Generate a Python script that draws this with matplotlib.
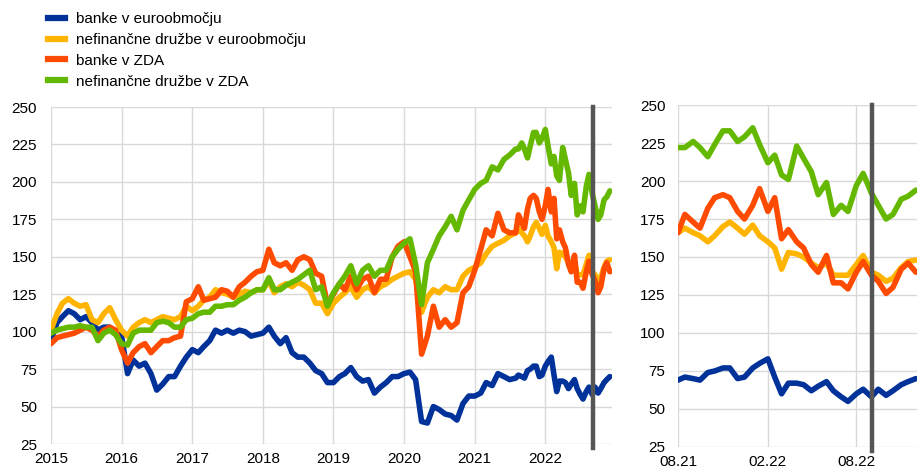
import numpy as np
import pandas as pd
import matplotlib
matplotlib.use('Agg')
import matplotlib.pyplot as plt
import matplotlib.dates as mdates
from matplotlib.lines import Line2D

plt.rcParams['font.family'] = ['Liberation Sans', 'DejaVu Sans']
plt.rcParams['font.size'] = 11

# monthly points Jan 2015 - Jul 2021, then twice a month Aug 2021 - Dec 2022
dates = pd.date_range('2015-01-01', '2021-07-01', freq='MS').append(
    pd.date_range('2021-08-01', '2022-12-01', freq='SMS'))

labels = ['banke v euroobmočju', 'nefinančne družbe v euroobmočju',
          'banke v ZDA', 'nefinančne družbe v ZDA']
colors = ['#003299', '#ffb400', '#ff4b00', '#65b800']

banke_ea = [
    94, 106, 110, 114, 112, 108, 110, 106, 101, 103, 103, 99,   # 2015
    97, 72, 81, 77, 79, 72, 61, 65, 70, 70, 77, 83,             # 2016
    88, 86, 90, 94, 101, 99, 101, 99, 101, 100, 97, 98,         # 2017
    99, 103, 97, 92, 96, 86, 83, 83, 79, 74, 72, 66,            # 2018
    66, 70, 72, 76, 70, 67, 68, 59, 63, 66, 70, 70,             # 2019
    72, 73, 68, 40, 39, 50, 48, 45, 44, 41, 52, 57,             # 2020
    57, 59, 66, 64, 72, 70, 68,                                 # 2021 jan-jul
    69, 71, 70, 69, 74, 75, 77, 77, 70, 71, 77, 80, 83, 71, 60, 67,
    67, 66, 62, 65, 68, 62, 58, 55, 60, 63, 58, 63, 59, 62, 66, 68, 70,
]
nfc_ea = [
    101, 112, 119, 122, 119, 117, 118, 108, 106, 112, 116, 108,
    101, 97, 103, 106, 108, 106, 108, 110, 109, 108, 110, 117,
    114, 117, 121, 123, 128, 126, 125, 123, 125, 127, 126, 128,
    128, 134, 126, 130, 132, 130, 133, 131, 128, 119, 119, 112,
    119, 123, 126, 130, 123, 128, 130, 126, 130, 132, 135, 137,
    139, 140, 135, 113, 123, 128, 126, 130, 128, 128, 137, 141,
    143, 146, 152, 157, 159, 161, 164,
    166, 169, 166, 164, 160, 164, 170, 173, 169, 165, 171, 164, 160, 156, 142, 153,
    152, 150, 146, 143, 146, 138, 138, 138, 145, 151, 140, 138, 134, 136, 143, 147, 148,
]
banke_us = [
    92, 96, 97, 98, 99, 101, 103, 101, 97, 101, 103, 101,
    88, 79, 86, 90, 92, 86, 90, 94, 94, 96, 97, 120,
    122, 130, 121, 122, 123, 128, 127, 123, 130, 133, 137, 140,
    141, 155, 146, 144, 146, 141, 148, 150, 148, 139, 137, 118,
    125, 132, 128, 137, 128, 135, 137, 126, 135, 135, 150, 157,
    160, 150, 140, 85, 97, 117, 103, 108, 103, 106, 126, 130,
    141, 155, 168, 164, 179, 168, 166,
    166, 178, 173, 169, 182, 189, 191, 189, 180, 175, 184, 195, 180, 189, 162, 168,
    160, 156, 145, 140, 151, 133, 133, 129, 140, 147, 138, 134, 126, 130, 142, 146, 140,
]
nfc_us = [
    99, 101, 102, 103, 103, 104, 103, 103, 94, 99, 101, 98,
    92, 91, 99, 101, 101, 101, 106, 107, 106, 103, 103, 108,
    109, 112, 113, 113, 117, 117, 118, 118, 121, 123, 126, 128,
    128, 136, 128, 128, 131, 133, 135, 138, 141, 128, 130, 117,
    126, 132, 137, 144, 132, 141, 144, 137, 141, 141, 150, 155,
    159, 162, 145, 118, 146, 155, 164, 170, 177, 168, 181, 188,
    195, 199, 201, 210, 208, 215, 218,
    222, 222, 226, 222, 216, 224, 233, 233, 226, 229, 235, 224, 212, 217, 204, 201,
    223, 215, 206, 191, 199, 178, 184, 180, 197, 205, 192, 184, 175, 178, 188, 190, 194,
]
series = [banke_ea, nfc_ea, banke_us, nfc_us]
for s in series:
    assert len(s) == len(dates)

cutoff = pd.Timestamp('2022-09-03')
end = pd.Timestamp('2022-12-12')
zoom_start = pd.Timestamp('2021-08-01')

W, H = 917, 472
fig = plt.figure(figsize=(W / 100, H / 100), dpi=100)
ax1 = fig.add_axes([51 / W, 28 / H, 561 / W, 337 / H])
px_day = 178.3 / 365
ax2 = fig.add_axes([678 / W, 25 / H, (end - zoom_start).days * px_day / W, 342 / H])

for ax in (ax1, ax2):
    for s, c in zip(series, colors):
        ax.plot(dates, s, color=c, lw=4, solid_capstyle='round',
                solid_joinstyle='round', zorder=2)
    ax.axvline(cutoff, ymin=-0.012, ymax=1, color='#555555', lw=3.2,
               zorder=3, clip_on=False)
    ax.set_ylim(25, 250)
    ax.set_yticks(range(25, 251, 25))
    ax.grid(True, color='#d9d9d9', lw=1)
    ax.set_axisbelow(True)
    for sp in ax.spines.values():
        sp.set_visible(False)
    ax.tick_params(length=0, labelsize=11, colors='#000000')
    ax.tick_params(axis='x', pad=6)

ax1.tick_params(axis='y', pad=10)
ax2.tick_params(axis='y', pad=9)

ax1.set_xlim(pd.Timestamp('2015-01-01'), end)
ax1.xaxis.set_major_locator(mdates.YearLocator())
ax1.xaxis.set_major_formatter(mdates.DateFormatter('%Y'))

ax2.set_xlim(zoom_start, end)
ax2.xaxis.set_major_locator(mdates.MonthLocator(bymonth=[2, 8]))
ax2.xaxis.set_major_formatter(mdates.DateFormatter('%m.%y'))

handles = [Line2D([], [], color=c, lw=4.5) for c in colors]
fig.legend(handles, labels, loc='upper left', bbox_to_anchor=(48 / W, 1 - 12 / H),
           frameon=False, handlelength=1.1, handletextpad=0.75,
           labelspacing=0.45, borderaxespad=0, borderpad=0, fontsize=11)

fig.savefig('out.png', dpi=100)
